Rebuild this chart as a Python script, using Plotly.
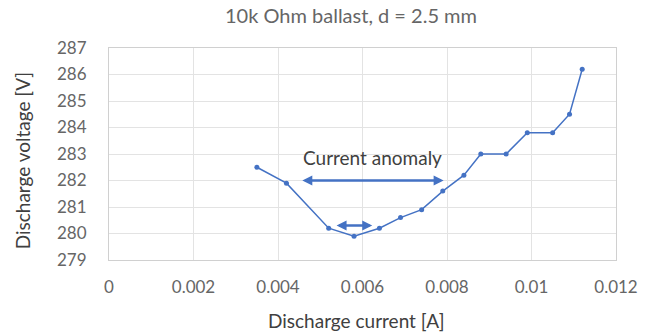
import plotly.graph_objects as go

current = [0.0035, 0.0042, 0.0052, 0.0058, 0.0064, 0.0069, 0.0074, 0.0079, 0.0084,
           0.0088, 0.0094, 0.0099, 0.0105, 0.0109, 0.0112]
voltage = [282.5, 281.9, 280.2, 279.9, 280.2, 280.6, 280.9, 281.6, 282.2,
           283.0, 283.0, 283.8, 283.8, 284.5, 286.2]

x_ticks = [0, 0.002, 0.004, 0.006, 0.008, 0.01, 0.012]
x_tick_labels = ["0", "0.002", "0.004", "0.006", "0.008", "0.01", "0.012"]
y_ticks = [279, 280, 281, 282, 283, 284, 285, 286, 287]

big_arrow = {"x0": 0.00454, "x1": 0.00792, "y": 282.0}
small_arrow = {"x0": 0.00535, "x1": 0.00623, "y": 280.3}

BLUE = "#4472C4"
GREY = "#666666"
DARK = "#404040"
FONT = "Lato"

L, R, T, B = 109, 32, 48, 75
W, H = 650, 335
PW, PH = W - L - R, H - T - B


def px(xp):
    return (xp - L) / PW


def py(yp):
    return (H - B - yp) / PH


fig = go.Figure()
fig.add_trace(go.Scatter(
    x=current, y=voltage, mode="lines+markers",
    line=dict(color=BLUE, width=1.5),
    marker=dict(color=BLUE, size=5),
    showlegend=False, hoverinfo="skip",
))

for arr in (big_arrow, small_arrow):
    fig.add_annotation(
        x=arr["x1"], y=arr["y"], ax=arr["x0"], ay=arr["y"],
        xref="x", yref="y", axref="x", ayref="y",
        showarrow=True, arrowhead=2, startarrowhead=2, arrowside="end+start",
        arrowsize=0.8, startarrowsize=0.8, arrowwidth=2.5, arrowcolor=BLUE, text="",
    )

fig.add_annotation(
    x=0.00623, y=282.85, xref="x", yref="y", text="Current anomaly",
    showarrow=False, font=dict(family=FONT, size=19, color=DARK),
)

fig.add_annotation(
    x=px(352), y=py(15), xref="paper", yref="paper",
    text="10k Ohm ballast, d = 2.5 mm", showarrow=False,
    font=dict(family=FONT, size=20, color=GREY), xanchor="center", yanchor="middle",
)
fig.add_annotation(
    x=px(357), y=py(320), xref="paper", yref="paper",
    text="Discharge current [A]", showarrow=False,
    font=dict(family=FONT, size=19, color=DARK), xanchor="center", yanchor="middle",
)
fig.add_annotation(
    x=px(22), y=py(160), xref="paper", yref="paper",
    text="Discharge voltage [V]", showarrow=False, textangle=-90,
    font=dict(family=FONT, size=19, color=DARK), xanchor="center", yanchor="middle",
)

fig.update_layout(
    width=W, height=H,
    margin=dict(l=L, r=R, t=T, b=B),
    paper_bgcolor="white", plot_bgcolor="white",
    font=dict(family=FONT, size=17, color=GREY),
    xaxis=dict(
        range=[0, 0.012], tickvals=x_ticks, ticktext=x_tick_labels,
        showgrid=True, gridcolor="#e3e3e3", gridwidth=1,
        showline=True, linecolor="#d0d0d0", mirror=True, zeroline=False,
        ticks="", ticklen=0, ticklabelstandoff=12,
        tickfont=dict(family=FONT, size=17, color=GREY),
    ),
    yaxis=dict(
        range=[279, 287], tickvals=y_ticks,
        showgrid=True, gridcolor="#e3e3e3", gridwidth=1,
        showline=True, linecolor="#d0d0d0", mirror=True, zeroline=False,
        ticks="outside", ticklen=18, tickcolor="rgba(0,0,0,0)",
        tickfont=dict(family=FONT, size=17, color=GREY),
    ),
)

fig.write_html("out.html")
